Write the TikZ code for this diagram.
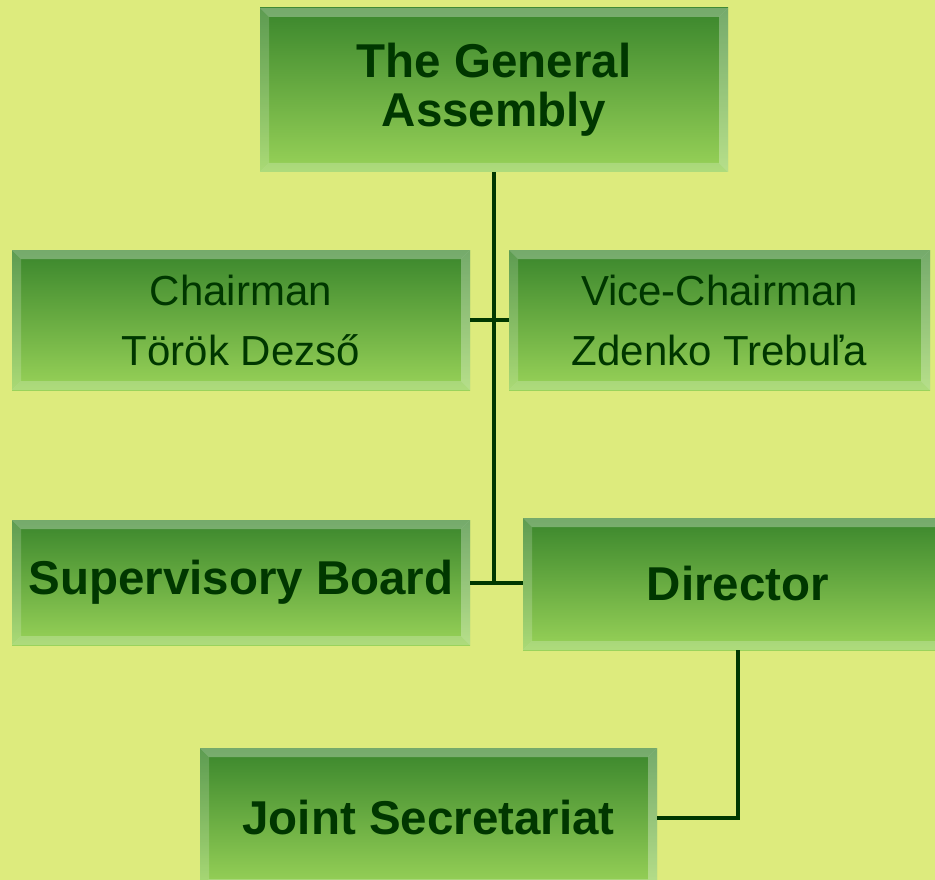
\documentclass[tikz,border=0pt]{standalone}
\usepackage{fontspec}
\setmainfont{Liberation Sans}
\definecolor{bgyellow}{RGB}{221,235,125}
\definecolor{boxtop}{RGB}{58,134,44}
\definecolor{boxbottom}{RGB}{152,210,88}
\definecolor{inkgreen}{RGB}{0,55,0}
\tikzset{
    orgbox/.style={rectangle,inner sep=0pt,align=center,text=inkgreen,
        top color=boxtop,bottom color=boxbottom,
        path picture={
            \coordinate (bbsw) at (path picture bounding box.south west);
            \coordinate (bbne) at (path picture bounding box.north east);
            \coordinate (bbnw) at (path picture bounding box.north west);
            \coordinate (bbse) at (path picture bounding box.south east);
            \fill[white,opacity=.30] (bbnw) -- (bbne) -- ([shift={(-9pt,-9pt)}]bbne) -- ([shift={(9pt,-9pt)}]bbnw) -- cycle;
            \fill[white,opacity=.18] (bbsw) -- (bbnw) -- ([shift={(9pt,-9pt)}]bbnw) -- ([shift={(9pt,9pt)}]bbsw) -- cycle;
            \fill[white,opacity=.30] (bbne) -- (bbse) -- ([shift={(-9pt,9pt)}]bbse) -- ([shift={(-9pt,-9pt)}]bbne) -- cycle;
            \fill[white,opacity=.22] (bbsw) -- (bbse) -- ([shift={(-9pt,9pt)}]bbse) -- ([shift={(9pt,9pt)}]bbsw) -- cycle;
        }},
    bigtext/.style={font=\bfseries\fontsize{47.5}{49}\selectfont},
    smalltext/.style={font=\fontsize{42}{60}\selectfont},
    link/.style={draw=inkgreen,line width=4pt}
}
\begin{document}
\begin{tikzpicture}[x=1pt,y=-1pt]
    \useasboundingbox (0,0) rectangle (935,880);
    \fill[bgyellow] (0,0) rectangle (935,880);
    \node[orgbox,bigtext,minimum width=468pt,minimum height=164pt] (assembly) at (494,90) {The General\\Assembly};
    \node[orgbox,smalltext,minimum width=458pt,minimum height=140pt] (chairman) at (241,320) {Chairman\\Török Dezső};
    \node[orgbox,smalltext,minimum width=421pt,minimum height=140pt] (vice) at (719.5,320) {Vice-Chairman\\Zdenko Trebuľa};
    \node[orgbox,bigtext,minimum width=458pt,minimum height=125pt] (board) at (241,582.5) {Supervisory Board};
    \node[orgbox,bigtext,minimum width=430pt,minimum height=132pt] (director) at (738,584) {Director};
    \node[orgbox,bigtext,minimum width=457pt,minimum height=140pt] (secretariat) at (428.5,818) {Joint Secretariat};
    \draw[link] (assembly.south) -- (assembly.south |- board.east);
    \draw[link] (chairman.east) -- (vice.west);
    \draw[link] (board.east) -- (board.east -| director.west);
    \draw[link] (director.south) |- (secretariat.east);
\end{tikzpicture}
\end{document}
